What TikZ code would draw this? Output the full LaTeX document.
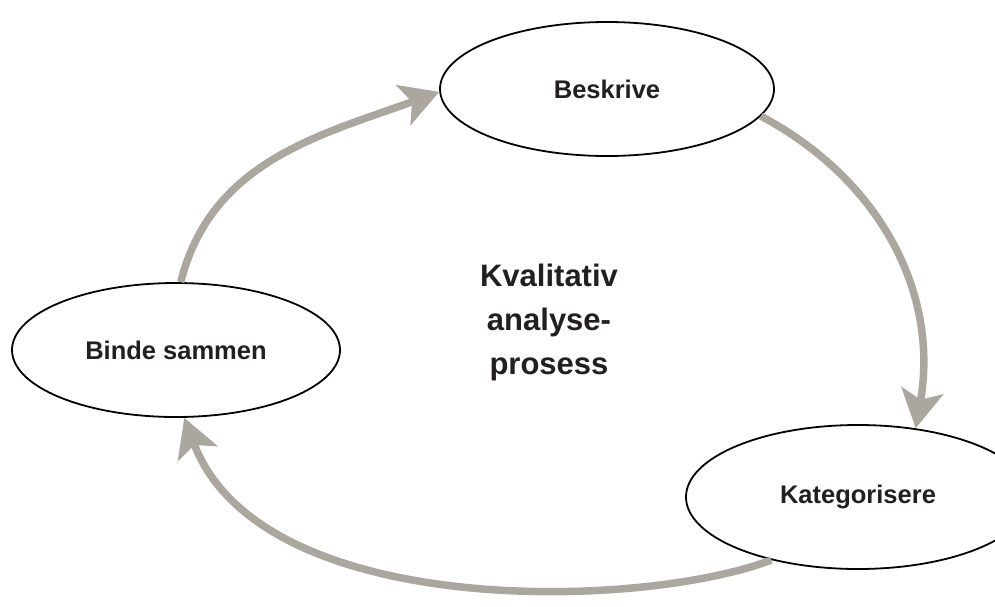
\documentclass[tikz,border=0pt]{standalone}
\usepackage{fontspec}
\setmainfont{Liberation Sans}
\usepackage{tikz}
\usetikzlibrary{positioning}
\usetikzlibrary{shapes.geometric}
\usetikzlibrary{arrows.meta}
\definecolor{arrowgray}{HTML}{ABA79F}
\definecolor{inkdark}{HTML}{231F20}
\begin{document}
\begin{tikzpicture}[x=1pt, y=-1pt,
    phase/.style= {
        ellipse,
        draw=black,
        line width=1.8pt,
        inner sep=0pt,
        text=inkdark,
        font=\bfseries\fontsize{25.5}{30}\selectfont
    },
    cycle/.style= {
        -{Stealth[length=38pt, width=42pt, inset=9pt]},
        draw=arrowgray,
        line width=7.5pt
    } ]
    \clip (0,0) rectangle (995,606);
    \node (beskrive) [phase, minimum width=334pt, minimum height=134pt] at (607,89) {Beskrive};
    \node (binde) [phase, minimum width=328pt, minimum height=134pt] at (176,350) {Binde sammen};
    \node (kategori) [phase, minimum width=344pt, minimum height=144pt] at (858,497) {Kategorisere};
    \node (midt) [align=center, text=inkdark, font=\bfseries\fontsize{31}{44}\selectfont] at (549,322) {Kvalitativ\\analyse-\\prosess};
    \draw [cycle] (binde.86) to[out=76, in=200] (beskrive.181);
    \draw [cycle] (beskrive.-10) to[out=-28, in=80] (kategori.50);
    \draw [cycle] (kategori.216) .. controls (640,610) and (260,620) .. (binde.-83);
\end{tikzpicture}
\end{document}
